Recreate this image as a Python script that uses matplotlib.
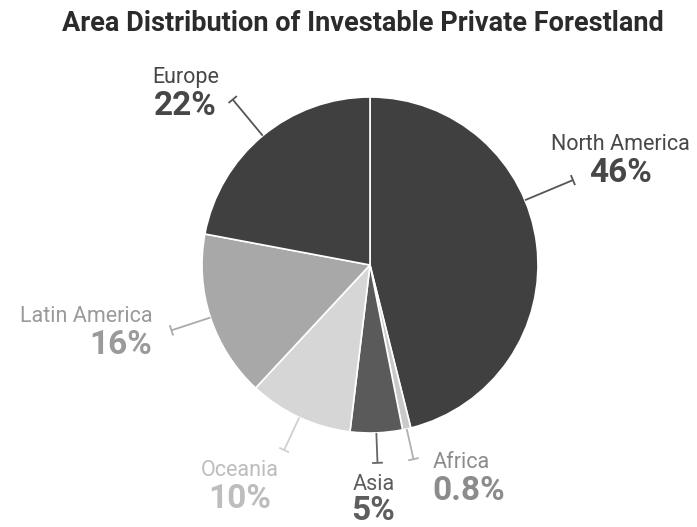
import numpy as np
import matplotlib
matplotlib.use("Agg")
import matplotlib.pyplot as plt

regions = ["North America", "Africa", "Asia", "Oceania", "Latin America", "Europe"]
shares = [46, 0.8, 5, 10, 16, 22]
pct_labels = ["46%", "0.8%", "5%", "10%", "16%", "22%"]

wedge_colors = ["#404040", "#c9c9c9", "#5a5a5a", "#d6d6d6", "#a8a8a8", "#404040"]
text_colors = ["#474747", "#8c8c8c", "#5e5e5e", "#bdbdbd", "#9a9a9a", "#474747"]
line_colors = ["#555555", "#b0b0b0", "#666666", "#d0d0d0", "#ababab", "#555555"]

W, H = 697, 527
cx, cy, R = 370, H - 265, 168

# label placement (pixels): leader length, angle override, name offset from leader end, alignment
leader_len = [220, 199, 198, 204, 209, 215]
angle_override = {0: 22.7}   # North America label sits higher than its mid-angle
name_off = [(47, 30), (19, -9), (-4, -27), (-44, -26), (-19, 8), (-47, 17)]
aligns = ["center", "left", "center", "center", "right", "center"]

plt.rcParams["font.family"] = ["Roboto", "DejaVu Sans"]

fig = plt.figure(figsize=(W / 100, H / 100), dpi=100)
ax = fig.add_axes([0, 0, 1, 1])

wedges, _ = ax.pie(shares, colors=wedge_colors, startangle=90, counterclock=False,
                   center=(cx, cy), radius=R, frame=True,
                   wedgeprops=dict(edgecolor="white", linewidth=1.2))
ax.set_xlim(0, W)
ax.set_ylim(0, H)
ax.axis("off")

for i, w in enumerate(wedges):
    mid = np.deg2rad(angle_override.get(i, (w.theta1 + w.theta2) / 2))
    ux, uy = np.cos(mid), np.sin(mid)
    sx, sy = cx + R * ux, cy + R * uy
    ex, ey = cx + leader_len[i] * ux, cy + leader_len[i] * uy
    ax.plot([sx, ex], [sy, ey], color=line_colors[i], lw=1.3, solid_capstyle="butt")
    # T cap
    px, py = -uy * 4.5, ux * 4.5
    ax.plot([ex - px, ex + px], [ey - py, ey + py], color=line_colors[i], lw=1.3)
    dx, dy = name_off[i]
    tx, ty = ex + dx, ey + dy
    gap = 30 if i == 2 else 32
    ax.text(tx, ty, regions[i], ha=aligns[i], va="baseline", fontsize=15.5,
            color=text_colors[i])
    ax.text(tx, ty - gap, pct_labels[i], ha=aligns[i], va="baseline", fontsize=24,
            fontweight="bold", color=text_colors[i])

ax.text(363, H - 31, "Area Distribution of Investable Private Forestland", ha="center",
        va="baseline", fontsize=19.5, fontweight="bold", color="#2b2b2b")

fig.savefig("out.png", dpi=100)
